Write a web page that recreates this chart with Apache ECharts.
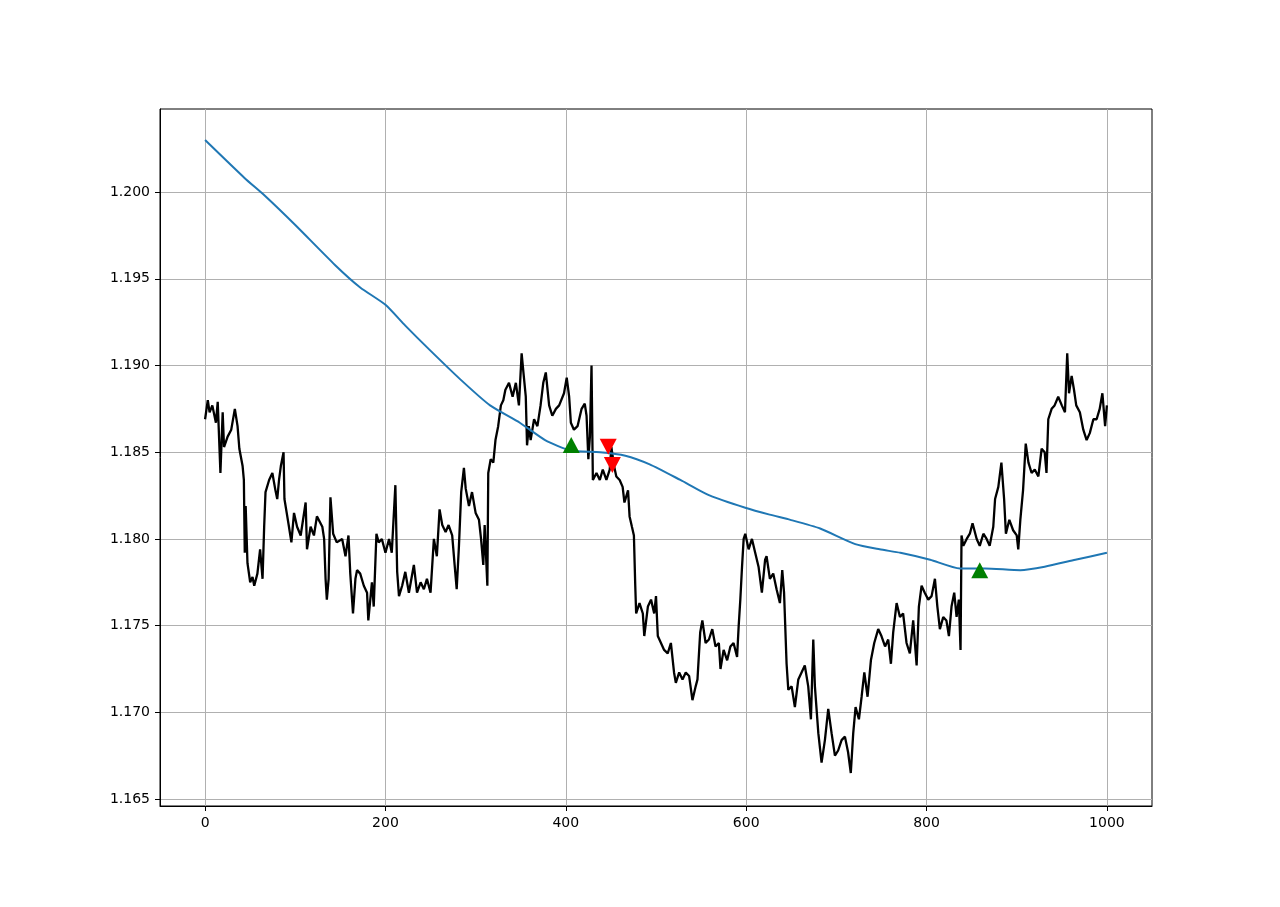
<!DOCTYPE html>
<html>
<head>
<meta charset="utf-8">
<script src="https://cdn.jsdelivr.net/npm/echarts@6/dist/echarts.min.js"></script>
<style>
  html, body { margin: 0; padding: 0; background: #fff; }
  #main { width: 1280px; height: 907px; }
</style>
</head>
<body>
<div id="main"></div>
<script>
// price path
const priceX = [0,3,5,8,12,14,17,19.5,21,25,29,33,36,38,41.6,43,44,45,47,50,52.6,54.5,58,61,63.7,65.5,67,71,74.6,78,80,82,84,87,88,90.5,93,95.7,98.6,102,106,111.5,113,117,120.7,124,130,132,133.6,135,137,139,142,146,152,155.7,159,161,164,166.7,168.5,172,176,179.6,181,185,187,190,192.5,196,200,204,207,211,213,215,218.5,222,226,231.5,235,239,242.6,246,250,253.7,257,260,263,266.7,270,274,276.7,279,281.5,284,287,289,292.6,296,300,303.7,306,308.5,310,313,314,316.7,319.6,322,325,328,330.7,333,337,341,344.6,348,351,353,355.6,357,359,361,364.8,368.5,372,375,377.8,381.5,385,389,392.6,398,401,403.7,405.6,409,413,417.5,421,423,425,426.7,428.5,430,434,437.7,441,445,448.7,450.5,453.5,456,459.7,463,465,469,470.7,473.3,475.5,477,478,481.7,485.4,487,491,494.5,498,500,502,505.5,509,513,516.5,520,522,525.7,529.4,533,536.7,540.4,544,546,549,551.4,555,558.7,562.4,566,569.7,571.5,575,578.9,582.5,586,589.9,591.7,593.5,595.4,597.2,599,602.7,606.4,610,613.7,617.4,621,622.6,626.3,630,633.7,637.4,640,642,644.8,646.7,650.4,654,657.8,661.4,665,668.8,671.8,674.4,676.2,680,683.6,687.3,691,694.7,698.4,702,705.8,709.5,713,716,718.7,721.3,725,728,731,734.6,738.3,742,746.4,750,754,757.5,760.5,763,766.8,770.5,774,777.8,781.5,785.2,789,791.5,794.5,798,801.9,805.6,809.3,812,814.8,818.5,822,824.8,827.7,830.7,833.3,835.8,837.7,838.8,840.8,844.5,848,851,855.6,859,863,866.6,870,874,876,879.6,883,886,888,891.8,896,900,901.7,904,907,910,913,916.5,920,924,927.6,931,933,935,938.7,942,946,950,953.5,956,958,960.9,963.5,966,970,973.8,977.5,981,985,988.6,992,995,998,1000];
const priceY = [1.1869,1.1880,1.1873,1.1877,1.1867,1.1879,1.1838,1.1873,1.1853,1.1859,1.1863,1.1875,1.1865,1.1852,1.1842,1.1834,1.1792,1.1819,1.1786,1.1775,1.1778,1.1773,1.1780,1.1794,1.1777,1.1807,1.1827,1.1834,1.1838,1.1828,1.1823,1.1834,1.1842,1.1850,1.1823,1.1815,1.1807,1.1798,1.1815,1.1807,1.1802,1.1821,1.1794,1.1807,1.1802,1.1813,1.1807,1.1800,1.1777,1.1765,1.1777,1.1824,1.1803,1.1798,1.1800,1.1790,1.1802,1.1780,1.1757,1.1777,1.1782,1.1780,1.1773,1.1769,1.1753,1.1775,1.1761,1.1803,1.1798,1.1800,1.1792,1.1800,1.1792,1.1831,1.1781,1.1767,1.1773,1.1781,1.1769,1.1785,1.1769,1.1775,1.1771,1.1777,1.1769,1.1800,1.1790,1.1817,1.1808,1.1804,1.1808,1.1802,1.1785,1.1771,1.1796,1.1827,1.1841,1.1829,1.1819,1.1827,1.1815,1.1811,1.1800,1.1785,1.1808,1.1773,1.1838,1.1846,1.1844,1.1857,1.1865,1.1877,1.1880,1.1886,1.1890,1.1882,1.1890,1.1877,1.1907,1.1896,1.1882,1.1854,1.1865,1.1857,1.1869,1.1865,1.1877,1.1890,1.1896,1.1877,1.1871,1.1875,1.1877,1.1884,1.1893,1.1882,1.1867,1.1863,1.1865,1.1875,1.1878,1.1871,1.1846,1.1859,1.1900,1.1834,1.1838,1.1834,1.1840,1.1834,1.1840,1.1853,1.1842,1.1836,1.1834,1.1830,1.1821,1.1828,1.1813,1.1807,1.1802,1.1773,1.1757,1.1763,1.1757,1.1744,1.1761,1.1765,1.1757,1.1767,1.1744,1.1740,1.1736,1.1734,1.1740,1.1723,1.1717,1.1723,1.1719,1.1723,1.1721,1.1707,1.1715,1.1719,1.1746,1.1753,1.1740,1.1742,1.1748,1.1738,1.1740,1.1725,1.1736,1.1730,1.1738,1.1740,1.1732,1.1750,1.1765,1.1784,1.1800,1.1803,1.1794,1.1800,1.1792,1.1784,1.1769,1.1788,1.1790,1.1777,1.1780,1.1771,1.1763,1.1782,1.1769,1.1728,1.1713,1.1715,1.1703,1.1719,1.1723,1.1727,1.1715,1.1696,1.1742,1.1715,1.1688,1.1671,1.1684,1.1702,1.1688,1.1675,1.1678,1.1684,1.1686,1.1677,1.1665,1.1688,1.1703,1.1696,1.1709,1.1723,1.1709,1.1730,1.1740,1.1748,1.1744,1.1738,1.1742,1.1728,1.1746,1.1763,1.1755,1.1757,1.1740,1.1734,1.1753,1.1727,1.1761,1.1773,1.1769,1.1765,1.1767,1.1777,1.1761,1.1748,1.1755,1.1753,1.1744,1.1761,1.1769,1.1755,1.1765,1.1736,1.1802,1.1796,1.1800,1.1803,1.1809,1.1800,1.1796,1.1803,1.1800,1.1796,1.1807,1.1823,1.1830,1.1844,1.1823,1.1803,1.1811,1.1805,1.1802,1.1794,1.1811,1.1828,1.1855,1.1844,1.1838,1.1840,1.1836,1.1852,1.1850,1.1838,1.1869,1.1875,1.1877,1.1882,1.1877,1.1873,1.1907,1.1884,1.1894,1.1886,1.1877,1.1873,1.1863,1.1857,1.1861,1.1869,1.1869,1.1875,1.1884,1.1865,1.1877];

// moving average
const maX = [0,44,66,100,144,172,200,222,249,283,316,349,377,405,438,466,493,527,560,599,626,649,682,721,748,771,804,837,865,904,931,965,1000];
const maY = [1.2030,1.2008,1.1998,1.1981,1.1958,1.1945,1.1935,1.1923,1.1909,1.1892,1.1877,1.1867,1.1857,1.1851,1.1850,1.1848,1.1843,1.1834,1.1825,1.1818,1.1814,1.1811,1.1806,1.1797,1.1794,1.1792,1.1788,1.1783,1.1783,1.1782,1.1784,1.1788,1.1792];

// signals
const buyX = [406, 859];
const buyY = [1.18541, 1.17820];
const sellX = [447, 451.6];
const sellY = [1.18531, 1.18426];

const xTicks = [0, 200, 400, 600, 800, 1000];
const yTicks = [1.165, 1.170, 1.175, 1.180, 1.185, 1.190, 1.195, 1.200];

const zip = (xs, ys) => xs.map((x, i) => [x, ys[i]]);

const chart = echarts.init(document.getElementById('main'));

const tickFont = { color: '#000', fontSize: 14, fontFamily: 'DejaVu Sans' };

const option = {
  animation: false,
  backgroundColor: '#fff',
  grid: {
    left: 160, top: 109, width: 992, height: 697,
    show: true, borderColor: '#000', borderWidth: 1, backgroundColor: 'transparent'
  },
  xAxis: {
    type: 'value', min: -50, max: 1050,
    axisLine: { show: true, onZero: false, lineStyle: { color: '#000', width: 1 } },
    axisTick: { show: true, length: 5, customValues: xTicks, lineStyle: { color: '#000' } },
    axisLabel: Object.assign({ customValues: xTicks, margin: 10, formatter: v => String(v) }, tickFont),
    splitLine: { show: true, lineStyle: { color: '#b0b0b0', width: 1 } }
  },
  yAxis: {
    type: 'value', min: 1.16460, max: 1.20479,
    axisLine: { show: true, onZero: false, lineStyle: { color: '#000', width: 1 } },
    axisTick: { show: true, length: 5, customValues: yTicks, lineStyle: { color: '#000' } },
    axisLabel: Object.assign({ customValues: yTicks, margin: 10, formatter: v => v.toFixed(3) }, tickFont),
    splitLine: { show: true, lineStyle: { color: '#b0b0b0', width: 1 } }
  },
  series: [
    {
      type: 'line', data: zip(priceX, priceY), showSymbol: false,
      lineStyle: { color: '#000', width: 2.3 }, z: 2
    },
    {
      type: 'line', data: zip(maX, maY), showSymbol: false, smooth: 0.2,
      lineStyle: { color: '#1f77b4', width: 2 }, z: 3
    },
    {
      type: 'scatter', data: zip(buyX, buyY), symbol: 'triangle', symbolSize: [17, 16],
      itemStyle: { color: '#008000', opacity: 1 }, z: 4
    },
    {
      type: 'scatter', data: zip(sellX, sellY), symbol: 'triangle', symbolSize: [17, 16],
      symbolRotate: 180, itemStyle: { color: '#ff0000', opacity: 1 }, z: 4
    }
  ]
};

chart.setOption(option);
</script>
</body>
</html>
